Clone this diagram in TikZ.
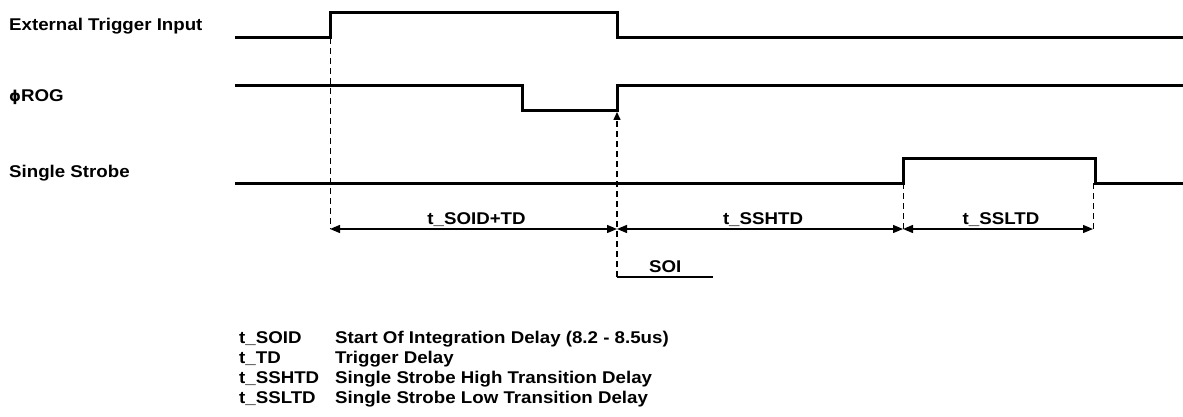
\documentclass[tikz,border=0pt]{standalone}
\usepackage{fontspec}
\setmainfont{Liberation Sans}[FakeStretch=1.1]
\newfontfamily\phifont{DejaVu Sans}
\usetikzlibrary{arrows.meta}

\begin{document}
\begin{tikzpicture}[x=1pt,y=-1pt,
    sig/.style={line width=3pt, line join=miter},
    guide/.style={line width=1pt, dash pattern=on 6pt off 4pt},
    dimline/.style={line width=1.3pt, {Triangle[length=10pt,width=8pt]}-{Triangle[length=10pt,width=8pt]}},
    lbl/.style={font=\fontsize{17}{20}\selectfont\bfseries, inner sep=0pt, anchor=base west},
    dimlbl/.style={font=\fontsize{17}{20}\selectfont\bfseries, inner sep=0pt, anchor=base, yshift=5pt, xshift=3pt}]
    \useasboundingbox (0,0) rectangle (1183,417);

    % Signal names
    \node[lbl] (ext) at (9,31) {External Trigger Input};
    \node[lbl] (rog) at (9,102) {{\phifont\fontsize{15}{18}\selectfont\bfseries ϕ}ROG};
    \node[lbl] (ss) at (9,177) {Single Strobe};

    % Waveforms
    \draw[sig] (235,38) -- (330,38) -- (330,13) -- (617,13) -- (617,38) -- (1183,38);
    \draw[sig] (235,86) -- (522,86) -- (522,111) -- (617,111) -- (617,86) -- (1183,86);
    \draw[sig] (235,183) -- (903,183) -- (903,158) -- (1095,158) -- (1095,183) -- (1183,183);

    % Edges the timing refers to
    \coordinate (extrise) at (330,38);
    \coordinate (rogrise) at (617,112);
    \coordinate (ssrise) at (903,183);
    \coordinate (ssfall) at (1093,183);

    % Timing marks on the dimension line
    \coordinate (t0) at (330,229);
    \coordinate (t1) at (617,229);
    \coordinate (t2) at (903,229);
    \coordinate (t3) at (1093,229);
    \coordinate (soi) at (617,277);
    \coordinate (soiend) at (713,277);

    % Dashed guides
    \draw[guide] (extrise) -- (t0);
    \draw[guide] (ssrise) -- (t2);
    \draw[guide] (ssfall) -- (t3);
    \draw[guide, line width=1.5pt, -{Triangle[length=8pt,width=7pt]}] (soi) -- (rogrise);

    % Delays
    \draw[dimline] (t0) -- node[dimlbl] {t\_SOID+TD} (t1);
    \draw[dimline] (t1) -- node[dimlbl] {t\_SSHTD} (t2);
    \draw[dimline] (t2) -- node[dimlbl] {t\_SSLTD} (t3);

    % Start of integration
    \draw[line width=1.3pt] (soi) -- (soiend);
    \node[lbl] (soilbl) at (649,272) {SOI};

    % Legend
    \foreach \k/\d [count=\i] in {t\_SOID/Start Of Integration Delay (8.2 - 8.5us),
        t\_TD/Trigger Delay,
        t\_SSHTD/Single Strobe High Transition Delay,
        t\_SSLTD/Single Strobe Low Transition Delay} {
        \node[lbl] (key\i) at (239,323+20*\i) {\k};
        \node[lbl] (desc\i) at (335,323+20*\i) {\d};
    }
\end{tikzpicture}
\end{document}
